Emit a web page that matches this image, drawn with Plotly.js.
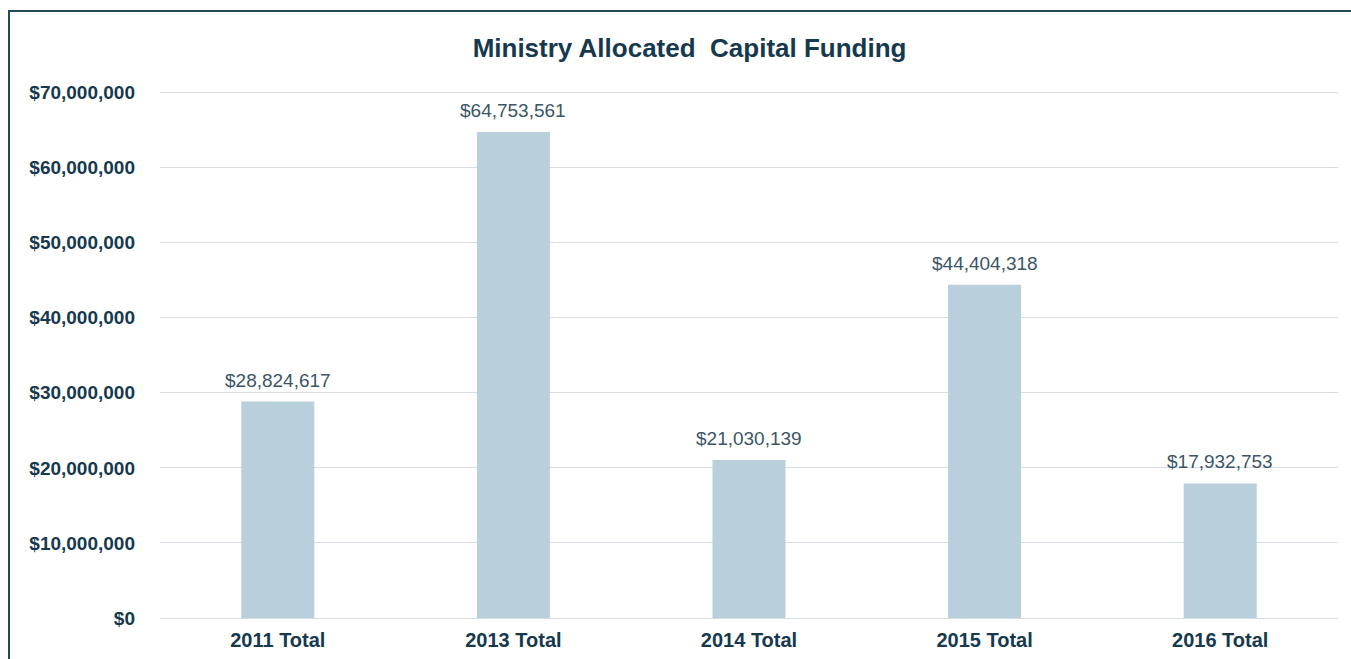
<!DOCTYPE html>
<html>
<head>
<meta charset="utf-8">
<script src="https://cdn.plot.ly/plotly-3.0.1.min.js"></script>
<style>
html, body { margin: 0; padding: 0; background: #ffffff; }
#wrap { position: relative; width: 1351px; height: 659px; overflow: hidden; }
#chart { position: absolute; left: 0; top: 0; width: 1351px; height: 659px; }
#frame { position: absolute; left: 8px; top: 10px; width: 1400px; height: 700px;
  border-left: 2px solid #24495a; border-top: 2px solid #24495a; pointer-events: none; }
</style>
</head>
<body>
<div id="wrap">
<div id="chart"></div>
<div id="frame"></div>
</div>
<script>
const categories = ["2011 Total", "2013 Total", "2014 Total", "2015 Total", "2016 Total"];
const funding = [28824617, 64753561, 21030139, 44404318, 17932753];
const yTickValues = [0, 10000000, 20000000, 30000000, 40000000, 50000000, 60000000, 70000000];
const yTickLabels = ["$0", "$10,000,000", "$20,000,000", "$30,000,000", "$40,000,000", "$50,000,000", "$60,000,000", "$70,000,000"];

const fmt = v => "$" + v.toLocaleString("en-US");

const trace = {
  type: "bar",
  x: categories,
  y: funding,
  width: 0.31,
  marker: { color: "#b9cfdc" },
  hoverinfo: "none"
};

const labelAnnotations = categories.map((c, i) => ({
  x: c,
  y: funding[i],
  xref: "x",
  yref: "y",
  text: fmt(funding[i]),
  showarrow: false,
  xanchor: "center",
  yanchor: "bottom",
  yshift: 9,
  font: { family: "Liberation Sans, Arial, sans-serif", size: 19, color: "#3b5566" }
}));

const layout = {
  width: 1351,
  height: 659,
  margin: { l: 160, r: 13, t: 91, b: 41 },
  paper_bgcolor: "#ffffff",
  plot_bgcolor: "#ffffff",
  showlegend: false,
  annotations: labelAnnotations,
  title: {
    text: "Ministry Allocated  Capital Funding",
    x: 0.5104,
    xref: "container",
    xanchor: "center",
    y: 0.927,
    yref: "container",
    yanchor: "middle",
    font: { family: "Liberation Sans, Arial, sans-serif", size: 26, color: "#17394d", weight: "bold" }
  },
  xaxis: {
    type: "category",
    showgrid: false,
    showline: false,
    zeroline: false,
    ticks: "",
    tickfont: { family: "Liberation Sans, Arial, sans-serif", size: 20, color: "#17394d", weight: "bold" },
    ticklabelstandoff: 8
  },
  yaxis: {
    range: [0, 70200000],
    tickvals: yTickValues,
    ticktext: yTickLabels,
    showgrid: true,
    gridcolor: "#d5dde3",
    gridwidth: 1,
    zeroline: true,
    zerolinecolor: "#d5dde3",
    zerolinewidth: 1,
    showline: false,
    ticks: "",
    ticklabelstandoff: 24,
    tickfont: { family: "Liberation Sans, Arial, sans-serif", size: 19, color: "#17394d", weight: "bold" }
  }
};

Plotly.newPlot("chart", [trace], layout, { displayModeBar: false, staticPlot: true });
</script>
</body>
</html>
